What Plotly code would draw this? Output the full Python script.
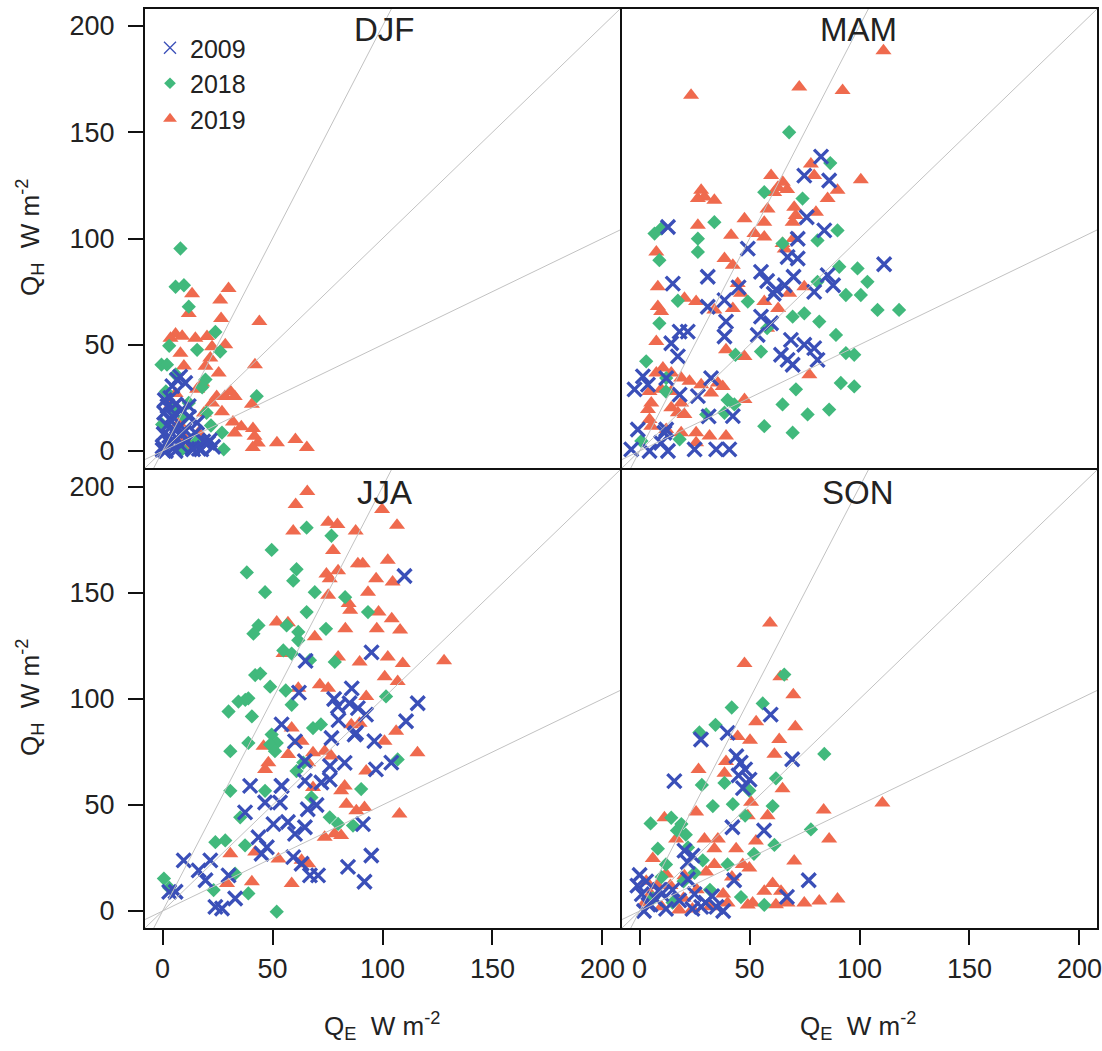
import plotly.graph_objects as go

# ---------------- data (Q_E, Q_H in W m-2) ----------------
seasons = ["DJF", "MAM", "JJA", "SON"]
years = ["2009", "2018", "2019"]
bowen_slopes = [2.0, 1.0, 0.5]
tick_vals = [0, 50, 100, 150, 200]
axis_range = [-8, 208]

djf_2009_x = [6.6, 10.3, 4.4, 8.0, 2.2, 5.9, 8.9, 11.9, 4.4, 0.7, 15.7, 14.9, 0.5, 3.0, 5.9, 8.9, 0.0, 3.0, 5.0, 8.0,
              11.0, 13.5, 16.5, 18.5, 21.5, 23.0, 1.5, 0.0, 5.9, 2.0, 4.0, 7.0, 10.0, 20.7, 17.6, 13.9, 12.0, 1.0, 3.5, 6.5]
djf_2009_y = [33.6, 32.0, 30.5, 35.0, 21.1, 21.9, 19.6, 21.1, 16.4, 18.0, 13.3, 8.6, 8.0, 7.0, 9.5, 8.0, 2.0, 4.0, 1.5, 3.0,
              5.0, 1.5, 1.0, 4.5, 5.0, 2.0, 0.0, 0.5, 0.0, 12.0, 14.0, 11.0, 10.0, 3.9, 0.8, 0.8, 16.0, 24.0, 25.0, 6.0]
djf_2018_x = [8.1, 5.9, 9.7, 11.9, 24.0, 3.0, 15.7, 26.2, -0.5, 2.0, 19.5, 42.8, -0.2, 27.0, 27.8, 8.9, 10.0, 11.9, 1.5,
              15.0, 22.0, 6.0, 4.0, 18.0, 20.0]
djf_2018_y = [95.3, 77.3, 78.0, 67.9, 56.0, 49.5, 47.6, 46.8, 40.6, 40.6, 33.6, 25.8, 12.5, 8.6, 0.8, 0.8, 16.0, 22.6, 28.0,
              4.0, 12.0, 36.0, 20.0, 30.0, 18.0]
djf_2019_x = [13.4, 30.0, 26.2, 11.9, 26.6, 44.0, 5.9, 8.9, 3.6, 14.9, 20.2, 28.5, 22.5, 8.1, 21.7, 19.5, 9.7, 25.5, 42.0,
              30.9, 24.6, 28.3, 32.8, 22.5, 40.6, 18.8, 27.0, 32.0, 35.8, 41.1, 32.8, 41.8, 43.3, 41.0, 52.0, 60.4, 65.6,
              15.7, 5.9, 7.4, 16.4, 12.0, 4.0, 18.0, 10.0]
djf_2019_y = [74.0, 76.5, 71.0, 64.7, 62.4, 60.9, 55.0, 54.0, 53.0, 53.0, 53.9, 50.0, 49.0, 46.0, 43.8, 39.9, 40.0, 36.7,
              40.6, 28.0, 25.6, 25.6, 25.6, 22.6, 22.0, 17.9, 18.5, 13.7, 11.4, 10.6, 8.5, 6.9, 3.8, 1.6, 3.9, 5.4, 1.6,
              29.0, 27.0, 13.0, 8.6, 2.0, 22.0, 32.0, 6.0]

mam_2009_x = [82.5, 86.2, 74.9, 12.9, 71.9, 49.2, 84.0, 67.3, 71.9, 111.2, 55.2, 31.0, 15.1, 85.5, 58.0, 62.0, 66.0, 70.0,
              61.0, 79.4, 31.0, 38.6, 39.3, 38.6, 55.2, 59.8, 53.7, 18.2, 21.9, 14.4, 68.8, 74.9, 64.3, 67.3, 69.6, 79.4,
              80.9, 17.4, 1.5, 3.8, 12.1, 32.5, -2.3, 18.2, 26.5, 42.4, -0.8, 12.1, -3.8, 4.5, 12.9, 25.0, 34.8, 40.8, 9.8,
              11.3, 76.0, 88.0, 45.0, 31.4]
mam_2009_y = [138.5, 127.3, 129.6, 105.4, 99.9, 95.2, 103.8, 91.3, 90.6, 87.9, 84.3, 82.0, 78.8, 82.8, 80.0, 76.0, 78.0,
              82.0, 74.0, 74.9, 67.9, 71.0, 60.9, 53.9, 63.2, 60.1, 54.6, 56.2, 56.2, 50.7, 52.3, 50.0, 45.3, 42.9, 40.6,
              48.4, 42.9, 44.5, 35.1, 31.2, 34.3, 34.3, 29.0, 26.5, 25.8, 16.4, 10.1, 10.1, 0.8, 0.0, 0.0, 0.8, 0.8, 0.8,
              3.9, 8.6, 110.0, 78.0, 77.0, 16.3]
mam_2018_x = [68.0, 86.7, 56.7, 74.1, 34.0, 6.8, 9.8, 26.5, 90.0, 80.9, 26.5, 9.0, 65.0, 90.8, 99.1, 103.6, 80.9, 93.8,
              100.6, 49.2, 17.4, 69.6, 74.9, 81.7, 108.2, 118.0, 9.0, 58.0, 89.3, 43.6, 55.2, 93.8, 97.6, 3.0, 12.1, 91.5,
              97.6, 71.1, 43.1, 65.0, 76.4, 86.2, 56.7, 69.6, 38.6, 30.3, 0.8, 18.2, 12.0, 40.0]
mam_2018_y = [150.0, 135.5, 121.8, 118.8, 107.7, 102.3, 104.6, 99.9, 103.8, 99.1, 93.7, 89.8, 97.6, 86.7, 85.9, 79.6, 79.6,
              73.4, 73.4, 70.3, 70.7, 63.2, 64.8, 60.9, 66.4, 66.4, 60.1, 57.8, 54.6, 45.3, 46.8, 46.1, 45.3, 42.2, 34.3,
              32.0, 30.4, 29.0, 21.9, 21.9, 17.2, 19.5, 11.7, 8.6, 18.0, 17.2, 4.7, 5.5, 28.0, 24.0]
mam_2019_x = [110.9, 23.4, 72.6, 92.3, 77.9, 100.6, 59.8, 65.1, 62.8, 67.1, 61.2, 79.4, 90.0, 85.5, 28.0, 29.5, 34.0, 26.5,
              70.3, 71.0, 47.7, 58.2, 56.7, 80.2, 26.5, 69.6, 41.6, 52.2, 56.7, 65.0, 7.6, 38.6, 42.4, 8.3, 44.6, 46.1,
              68.0, 74.9, 20.4, 25.7, 8.3, 9.8, 34.0, 42.4, 56.7, 63.0, 58.0, 7.6, 39.3, 47.7, 10.6, 14.4, 7.6, 77.2, 18.9,
              22.7, 35.6, 37.8, 28.0, 4.5, 5.3, 3.8, 14.4, 9.8, 32.5, 47.7, 14.4, 17.4, 20.4, 18.9, 4.5, 5.3, 12.1, 18.9,
              25.7, 31.8, 39.3, 25.7, 70.0, 66.0]
mam_2019_y = [188.4, 167.4, 171.3, 169.7, 135.0, 127.6, 129.6, 126.5, 124.0, 123.0, 121.6, 129.6, 122.7, 118.8, 122.7,
              119.5, 118.0, 118.8, 114.7, 110.8, 109.3, 113.9, 107.7, 112.3, 106.2, 107.7, 101.5, 102.3, 100.7, 97.6, 93.7,
              90.6, 87.4, 77.3, 78.8, 74.2, 74.2, 77.3, 71.9, 70.3, 68.0, 65.6, 66.4, 67.1, 70.3, 67.1, 57.8, 51.5, 47.6,
              44.5, 39.0, 36.7, 36.7, 35.9, 34.3, 32.8, 32.0, 30.4, 31.2, 28.0, 22.6, 19.5, 28.0, 29.0, 27.3, 24.2, 20.3,
              18.0, 17.2, 22.6, 14.8, 11.7, 10.1, 8.6, 8.6, 7.0, 7.0, 3.9, 100.0, 95.0]

jja_2009_x = [3.0, 5.9, 9.6, 16.4, 19.5, 21.7, 27.0, 30.0, 33.0, 37.5, 39.8, 43.6, 47.4, 50.4, 46.6, 53.4, 64.7, 72.2,
              54.1, 60.2, 64.7, 63.2, 67.0, 70.7, 59.4, 76.8, 82.8, 76.1, 87.3, 96.3, 64.7, 54.1, 60.2, 54.1, 79.7, 88.8,
              92.5, 91.1, 97.0, 116.0, 110.7, 94.9, 91.8, 84.3, 110.0, 95.0, 65.0, 62.0, 78.0, 85.0, 86.0, 80.0, 76.0,
              24.0, 57.0, 70.0, 66.0, 45.0, 104.0, 88.0]
jja_2009_y = [9.0, 9.1, 23.9, 19.2, 14.5, 23.9, 1.2, 16.8, 5.9, 46.5, 59.0, 34.8, 30.1, 41.0, 51.2, 51.2, 61.4, 60.6, 88.0,
              36.4, 39.5, 22.3, 16.8, 16.8, 25.4, 81.6, 69.9, 68.4, 83.2, 80.1, 70.7, 59.0, 80.0, 59.0, 96.5, 95.7, 92.6,
              41.0, 66.8, 98.0, 89.5, 26.2, 13.8, 20.8, 158.0, 122.0, 118.0, 103.0, 100.0, 98.0, 105.0, 90.0, 62.0, 2.0,
              42.0, 50.0, 48.0, 27.0, 70.0, 84.0]
jja_2018_x = [65.5, 76.8, 49.6, 38.3, 60.9, 59.4, 46.6, 69.2, 65.5, 43.6, 41.3, 56.4, 61.7, 61.7, 74.3, 93.4, 67.0, 54.9,
              58.7, 42.1, 44.4, 48.9, 37.6, 78.3, 30.0, 34.5, 39.0, 40.6, 30.8, 39.0, 49.6, 51.9, 48.9, 51.1, 30.8, 46.6,
              35.3, 24.0, 28.5, 37.5, 0.6, 23.2, 33.0, 39.0, 51.9, 67.7, 76.0, 86.6, 79.8, 90.3, 60.9, 106.9, 101.6, 58.7,
              68.4, 3.0, 56.0, 72.0, 83.0, 64.0]
jja_2018_y = [180.8, 177.0, 170.3, 159.7, 161.2, 155.8, 150.4, 150.4, 141.0, 134.7, 130.8, 134.7, 131.6, 127.7, 133.1,
              141.0, 118.3, 122.9, 121.4, 111.3, 112.0, 105.8, 99.6, 117.5, 94.1, 98.8, 100.3, 91.8, 75.4, 79.3, 83.2,
              79.3, 78.5, 75.4, 56.7, 56.7, 44.2, 32.5, 33.3, 31.0, 15.3, 9.9, 17.6, 8.3, -0.3, 53.6, 44.2, 40.3, 41.1,
              57.5, 66.0, 71.5, 101.2, 97.3, 86.3, 11.0, 104.0, 88.0, 148.0, 70.0]
jja_2019_x = [65.8, 60.5, 59.4, 75.3, 79.5, 87.8, 99.8, 106.6, 77.5, 88.8, 91.0, 102.4, 74.5, 79.8, 76.0, 97.1, 104.6,
              93.4, 75.3, 84.6, 85.3, 98.2, 104.2, 108.0, 83.1, 51.9, 69.2, 55.0, 97.4, 79.8, 89.6, 102.4, 109.2, 101.0,
              106.9, 61.7, 71.5, 75.3, 92.6, 58.7, 63.2, 45.9, 48.1, 46.6, 57.1, 68.4, 73.7, 76.7, 85.8, 89.6, 100.9,
              106.2, 115.9, 92.6, 82.8, 83.6, 88.1, 91.8, 107.7, 73.7, 78.2, 81.2, 30.8, 42.1, 52.7, 63.2, 66.2, 40.6,
              29.3, 58.7, 68.4, 81.2, 66.2, 128.0, 57.0]
jja_2019_y = [197.9, 191.7, 179.2, 183.4, 182.3, 179.2, 189.4, 181.9, 170.0, 163.8, 163.8, 165.4, 159.0, 160.5, 156.7,
              156.7, 155.2, 150.4, 148.9, 145.0, 141.9, 141.0, 137.9, 132.5, 133.1, 136.3, 129.3, 121.4, 133.1, 119.8,
              117.5, 119.8, 116.7, 110.5, 108.2, 105.1, 106.7, 105.1, 101.2, 86.3, 80.1, 77.7, 69.9, 66.8, 73.8, 74.6,
              75.4, 73.1, 87.9, 88.6, 80.1, 84.8, 74.6, 66.0, 59.0, 50.4, 47.3, 48.8, 45.8, 34.8, 36.4, 35.6, 27.0, 27.8,
              24.6, 23.9, 22.3, 13.8, 13.0, 13.0, 58.3, 56.7, 69.9, 118.0, 136.0]

son_2009_x = [59.6, 40.0, 27.9, 15.8, 44.0, 46.0, 48.0, 50.0, 47.0, 45.0, 69.4, 56.6, 42.2, 20.4, 24.1, 21.9, 1.0, 0.0,
              -1.0, 3.0, 9.0, 25.0, 30.0, 35.0, 24.0, 76.9, 67.0, 43.0, 5.0, 12.0, 18.0, 2.0, 7.0, 15.0, 28.0, 38.0, 22.0,
              33.0, 10.0, 4.0]
son_2009_y = [92.6, 84.0, 80.9, 61.3, 73.0, 70.0, 66.8, 62.0, 58.0, 64.0, 71.6, 38.0, 39.5, 28.5, 26.1, 23.0, 8.0, 17.0,
              12.0, 14.0, 10.0, 8.0, 4.0, 2.0, 1.0, 14.5, 6.7, 14.5, 3.0, 1.0, 5.0, 0.0, 6.0, 10.0, 2.0, 0.0, 15.0, 7.0,
              8.0, 3.0]
son_2018_x = [65.8, 41.9, 56.0, 34.5, 27.2, 84.0, 62.0, 28.3, 49.9, 38.6, 60.5, 33.3, 42.4, 5.0, 14.4, 17.0, 19.0, 21.0,
              77.9, 61.3, 8.3, 28.7, 46.1, 56.7, 22.0, 12.0, 20.0, 6.0, 32.0, 40.0, 25.0, 15.0, 10.0, 48.0, 52.0]
son_2018_y = [111.5, 96.0, 97.9, 87.8, 84.2, 74.1, 62.6, 59.5, 56.8, 60.4, 49.5, 49.5, 50.4, 41.3, 44.0, 38.0, 41.0, 36.0,
              38.5, 31.2, 29.4, 23.9, 6.6, 2.9, 30.0, 22.0, 14.0, 6.0, 10.0, 22.0, 18.0, 4.0, 16.0, 45.0, 27.0]
son_2019_x = [59.3, 47.7, 64.0, 69.9, 70.8, 53.0, 63.5, 61.3, 50.2, 44.6, 39.3, 38.6, 26.8, 65.0, 50.7, 49.2, 25.7, 83.7,
              110.4, 86.2, 70.3, 11.3, 6.0, 16.6, 29.5, 35.6, 43.9, 52.9, 58.2, 46.9, 49.9, 34.0, 34.0, 30.3, 20.4, 12.0,
              3.0, 8.0, 14.0, 51.4, 56.7, 60.5, 64.3, 67.3, 74.9, 81.7, 90.0, 49.2, 40.0, 2.3, 20.0, 26.0, 32.0, 10.0, 5.0,
              18.0, 24.0, 38.0, 42.0, 62.0]
son_2019_y = [135.8, 116.7, 110.5, 102.0, 86.9, 89.3, 80.9, 74.0, 80.5, 82.3, 70.5, 65.0, 66.8, 57.7, 51.3, 44.9, 46.7,
              47.7, 51.0, 34.0, 23.6, 44.0, 24.8, 34.0, 34.0, 34.0, 29.4, 33.0, 44.9, 22.0, 20.3, 29.4, 22.0, 18.4, 16.6,
              17.5, 14.0, 12.0, 12.0, 3.8, 9.3, 13.0, 9.3, 3.8, 3.8, 4.7, 5.7, 2.9, 3.8, 3.8, 6.0, 10.0, 2.0, 2.0, 8.0, 0.5,
              1.0, 8.0, 16.0, 3.0]

panel_data = {
    "DJF": {"2009": (djf_2009_x, djf_2009_y), "2018": (djf_2018_x, djf_2018_y), "2019": (djf_2019_x, djf_2019_y)},
    "MAM": {"2009": (mam_2009_x, mam_2009_y), "2018": (mam_2018_x, mam_2018_y), "2019": (mam_2019_x, mam_2019_y)},
    "JJA": {"2009": (jja_2009_x, jja_2009_y), "2018": (jja_2018_x, jja_2018_y), "2019": (jja_2019_x, jja_2019_y)},
    "SON": {"2009": (son_2009_x, son_2009_y), "2018": (son_2018_x, son_2018_y), "2019": (son_2019_x, son_2019_y)},
}

# ---------------- styles ----------------
W, H = 1102, 1051
FONT = "Liberation Sans, Arial, sans-serif"
colors = {"2009": "#3a4fb8", "2018": "#41b97c", "2019": "#ef6a4e"}
draw_order = ["2019", "2018", "2009"]
LW = 2


def px_x(p):
    return p / W


def px_y(p):
    return 1 - p / H


left_dom = [px_x(145), px_x(620)]
right_dom = [px_x(620 + LW), px_x(1097)]
top_dom = [px_y(468), px_y(9)]
bot_dom = [px_y(928), px_y(468 + LW)]

panels = [
    ("DJF", "x", "y", left_dom, top_dom, True, False),
    ("MAM", "x2", "y2", right_dom, top_dom, False, False),
    ("JJA", "x3", "y3", left_dom, bot_dom, True, True),
    ("SON", "x4", "y4", right_dom, bot_dom, False, True),
]

fig = go.Figure()


def marker_for(year, legend=False):
    if year == "2009":
        return dict(symbol="x-thin", size=14 if not legend else 12,
                    color=colors[year], line=dict(color=colors[year], width=3.3 if not legend else 1.3))
    if year == "2018":
        return dict(symbol="diamond", size=11 if not legend else 9, color=colors[year], line=dict(width=0))
    return dict(symbol="triangle-up", size=14 if not legend else 12, color=colors[year], line=dict(width=0))


for name, xa, ya, xd, yd, show_y, show_x in panels:
    for yr in draw_order:
        xs, ys = panel_data[name][yr]
        fig.add_trace(go.Scatter(x=xs, y=ys, mode="markers", xaxis=xa, yaxis=ya,
                                 marker=marker_for(yr), showlegend=False, hoverinfo="skip"))
    for s in bowen_slopes:
        fig.add_trace(go.Scatter(x=axis_range, y=[s * v for v in axis_range], mode="lines",
                                 xaxis=xa, yaxis=ya, line=dict(color="#c2c2c2", width=1),
                                 showlegend=False, hoverinfo="skip"))

# legend entries (drawn by the legend only)
for yr in years:
    fig.add_trace(go.Scatter(x=[None], y=[None], mode="markers", name=yr, xaxis="x", yaxis="y",
                             marker=marker_for(yr, legend=True), showlegend=True))

layout_axes = {}
for i, (name, xa, ya, xd, yd, show_y, show_x) in enumerate(panels):
    suffix = "" if i == 0 else str(i + 1)
    layout_axes["xaxis" + suffix] = dict(
        domain=xd, range=axis_range, anchor=ya, showgrid=False, zeroline=False,
        showline=True, mirror=True, linecolor="#111", linewidth=LW,
        tickvals=tick_vals, showticklabels=show_x, ticks="outside" if show_x else "",
        ticklen=15, tickwidth=1.5, tickcolor="#111", ticklabelstandoff=1,
        tickfont=dict(family=FONT, size=27, color="#222"),
    )
    layout_axes["yaxis" + suffix] = dict(
        domain=yd, range=axis_range, anchor=xa, showgrid=False, zeroline=False,
        showline=True, mirror=True, linecolor="#111", linewidth=LW,
        tickvals=tick_vals, showticklabels=show_y, ticks="outside" if show_y else "",
        ticklen=15, tickwidth=1.5, tickcolor="#111", ticklabelstandoff=8,
        tickfont=dict(family=FONT, size=27, color="#222"),
    )

annotations = []
title_pos = {"DJF": (384, 30), "MAM": (858, 30), "JJA": (384, 492), "SON": (858, 492)}
for name, (cx, cy) in title_pos.items():
    annotations.append(dict(text=name, x=px_x(cx), y=px_y(cy), xref="paper", yref="paper",
                            xanchor="center", yanchor="middle", showarrow=False,
                            font=dict(family=FONT, size=33, color="#222")))

qh = "Q<sub>H</sub>  W m<sup>-2</sup>"
qe = "Q<sub>E</sub>  W m<sup>-2</sup>"
for cy in (238, 698):
    annotations.append(dict(text=qh, x=px_x(30), y=px_y(cy), xref="paper", yref="paper",
                            xanchor="center", yanchor="middle", textangle=-90, showarrow=False,
                            font=dict(family=FONT, size=26, color="#222")))
for cx in (382, 858):
    annotations.append(dict(text=qe, x=px_x(cx), y=px_y(1026), xref="paper", yref="paper",
                            xanchor="center", yanchor="middle", showarrow=False,
                            font=dict(family=FONT, size=26, color="#222")))

fig.update_layout(
    width=W, height=H, margin=dict(l=0, r=0, t=0, b=0, autoexpand=False),
    paper_bgcolor="white", plot_bgcolor="white",
    annotations=annotations,
    legend=dict(x=px_x(150), y=px_y(25), xanchor="left", yanchor="top",
                bgcolor="rgba(0,0,0,0)", font=dict(family=FONT, size=25, color="#222"),
                tracegroupgap=0, itemwidth=30),
    **layout_axes,
)

fig.write_html("out.html", config={"displayModeBar": False},
               post_script="document.body.style.margin='0';document.body.style.padding='0';"
                           "document.documentElement.style.overflow='hidden';")
